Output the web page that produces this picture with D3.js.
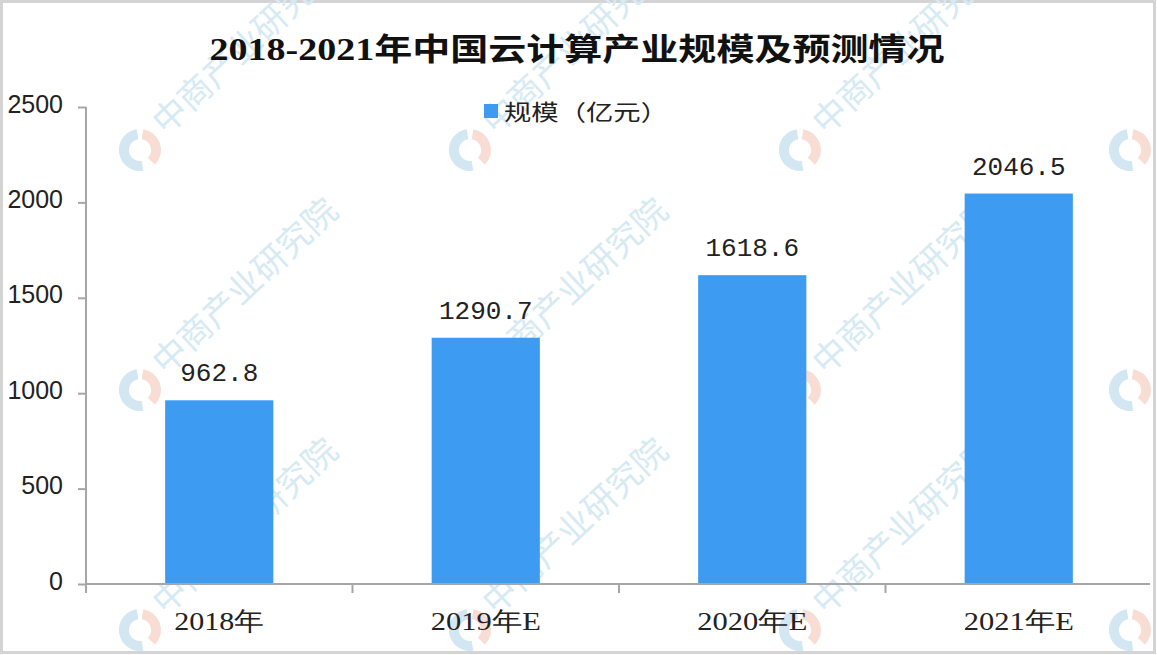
<!DOCTYPE html>
<html>
<head>
<meta charset="utf-8">
<script src="https://cdn.jsdelivr.net/npm/d3@7"></script>
<style>
  html, body { margin: 0; padding: 0; background: #ffffff; }
  svg { display: block; }
</style>
</head>
<body>
<svg id="chart" width="1157" height="655"></svg>
<script>
// ---- data ----
const title = "2018-2021年中国云计算产业规模及预测情况";
const seriesName = "规模（亿元）";
const categories = ["2018年", "2019年E", "2020年E", "2021年E"];
const values = [962.8, 1290.7, 1618.6, 2046.5];
const yTicks = [0, 500, 1000, 1500, 2000, 2500];
const watermarkText = "中商产业研究院";

// ---- setup ----
const W = 1157, H = 655;
const svg = d3.select("#chart");
const barColor = "#3d9cf2";

svg.append("rect").attr("x", 1.5).attr("y", 1.5).attr("width", W - 4).attr("height", H - 4)
  .attr("fill", "#fff").attr("stroke", "#d4d4d4").attr("stroke-width", 3);

const x = d3.scaleBand().domain(categories).range([86, 1152]).paddingInner(0).paddingOuter(0);
const y = d3.scaleLinear().domain([0, 2500]).range([584, 107]);
const barFrac = 0.406;

// ---- watermarks (behind) ----
const wm = svg.append("g").attr("class", "watermark");
const wmX = [140, 470, 800, 1130];
const wmY = [150, 390, 630];
wmY.forEach(y0 => wmX.forEach(x0 => {
  const g = wm.append("g").attr("transform", `translate(${x0},${y0})`);
  const arcBlue = d3.arc().innerRadius(11).outerRadius(21).startAngle(Math.PI * 0.95).endAngle(Math.PI * 1.95);
  const arcOrange = d3.arc().innerRadius(11).outerRadius(21).startAngle(Math.PI * 0.05).endAngle(Math.PI * 0.75);
  g.append("path").attr("d", arcBlue()).attr("fill", "#d2e7f2");
  g.append("path").attr("d", arcOrange()).attr("fill", "#f8ddd4");
  if (x0 < 1000) {
    g.append("text")
      .attr("transform", "translate(26,-14) rotate(-43)")
      .attr("font-family", "'Noto Sans CJK SC', sans-serif")
      .attr("font-size", 34)
      .attr("fill", "#d6eaf4")
      .text(watermarkText);
  }
}));

// ---- bars ----
const bw = x.bandwidth() * barFrac;
svg.append("g").selectAll("rect").data(values).join("rect")
  .attr("x", (d, i) => x(categories[i]) + (x.bandwidth() - bw) / 2)
  .attr("y", d => y(d))
  .attr("width", bw)
  .attr("height", d => y(0) - y(d))
  .attr("fill", barColor);

// value labels
svg.append("g").selectAll("text").data(values).join("text")
  .attr("x", (d, i) => x(categories[i]) + x.bandwidth() / 2)
  .attr("y", d => y(d) - 19)
  .attr("text-anchor", "middle")
  .attr("font-family", "'Liberation Mono', 'DejaVu Sans Mono', monospace")
  .attr("font-size", 26)
  .attr("fill", "#222")
  .text(d => d.toFixed(1));

// ---- axes ----
const axisColor = "#a6a6a6";
const yAxis = svg.append("g").attr("transform", "translate(86,0)")
  .call(d3.axisLeft(y).tickValues(yTicks).tickSize(8).tickPadding(15).tickFormat(d3.format("d")));
yAxis.select(".domain").remove();
yAxis.append("line").attr("x1", 0).attr("x2", 0).attr("y1", 107).attr("y2", 593)
  .attr("stroke", axisColor).attr("stroke-width", 2);
yAxis.selectAll(".tick line").attr("stroke", axisColor).attr("stroke-width", 2);
yAxis.selectAll(".tick text")
  .attr("font-family", "'Liberation Sans', Arial, sans-serif")
  .attr("font-size", 25).attr("fill", "#222").attr("dy", "0.2em");

const xAxis = svg.append("g").attr("transform", `translate(0,${y(0)})`);
xAxis.append("line").attr("x1", 86).attr("x2", 1150).attr("y1", 0).attr("y2", 0)
  .attr("stroke", axisColor).attr("stroke-width", 2);
const edges = categories.map(c => x(c));
xAxis.selectAll("line.tk").data(edges).join("line").attr("class", "tk")
  .attr("x1", d => d).attr("x2", d => d).attr("y1", 0).attr("y2", 9)
  .attr("stroke", axisColor).attr("stroke-width", 2);
xAxis.selectAll("text").data(categories).join("text")
  .attr("x", d => x(d) + x.bandwidth() / 2)
  .attr("y", 46)
  .attr("text-anchor", "middle")
  .attr("font-family", "'Liberation Serif', 'DejaVu Serif', serif")
  .attr("font-size", 26)
  .attr("fill", "#222")
  .attr("textLength", d => d.length === 5 ? 90 : 110)
  .attr("lengthAdjust", "spacingAndGlyphs")
  .text(d => d);

// ---- title ----
svg.append("text")
  .attr("x", 577).attr("y", 60)
  .attr("text-anchor", "middle")
  .attr("font-family", "'Liberation Serif', 'Noto Sans CJK SC', serif")
  .attr("font-size", 31).attr("font-weight", "bold")
  .attr("fill", "#111")
  .attr("textLength", 735).attr("lengthAdjust", "spacingAndGlyphs")
  .text(title);

// ---- legend ----
const lg = svg.append("g");
lg.append("rect").attr("x", 484).attr("y", 104).attr("width", 14).attr("height", 14).attr("fill", barColor);
lg.append("text").attr("x", 504).attr("y", 120)
  .attr("font-family", "'Noto Sans CJK SC', sans-serif")
  .attr("font-size", 22).attr("fill", "#222")
  .attr("textLength", 164).attr("lengthAdjust", "spacingAndGlyphs")
  .text(seriesName);
</script>
</body>
</html>
